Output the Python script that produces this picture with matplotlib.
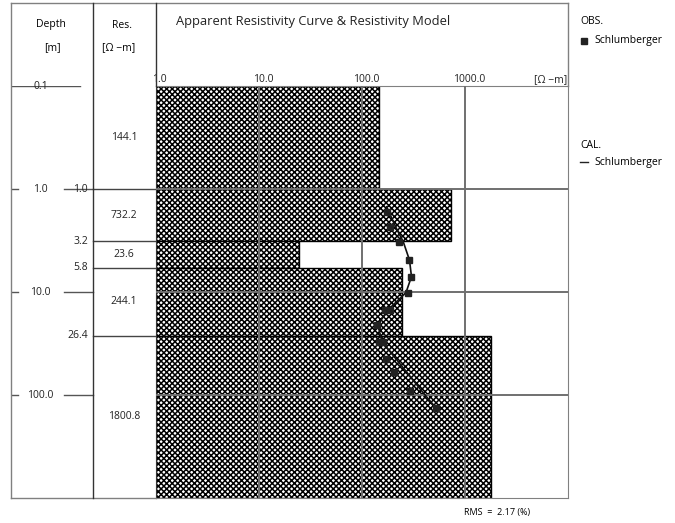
import numpy as np
import matplotlib
matplotlib.use("Agg")
import matplotlib.pyplot as plt
from matplotlib.transforms import offset_copy

plt.rcParams['font.family'] = ['Open Sans', 'DejaVu Sans']
plt.rcParams['hatch.linewidth'] = 1.1
plt.rcParams['hatch.color'] = '#111111'

# resistivity model
layer_top = [0.1, 1.0, 3.2, 5.8, 26.4]
layer_bottom = [1.0, 3.2, 5.8, 26.4, 1000.0]
layer_res = [144.1, 732.2, 23.6, 244.1, 1800.8]
res_labels = ['144.1', '732.2', '23.6', '244.1', '1800.8']
boundary_depths = [1.0, 3.2, 5.8, 26.4]
boundary_labels = ['1.0', '3.2', '5.8', '26.4']

depth_ticks = [0.1, 1.0, 10.0, 100.0]
depth_tick_labels = ['0.1', '1.0', '10.0', '100.0']
res_ticks = [1.0, 10.0, 100.0, 1000.0]
res_tick_labels = ['1.0', '10.0', '100.0', '1000.0']

# observed apparent resistivity (Schlumberger)
obs_ab2 = [1.66, 2.35, 3.27, 4.89, 7.06, 10.1, 14.9, 14.9, 20.8, 30.4, 30.4,
           44.9, 60.3, 90.9, 133.7]
obs_rho = [177, 187, 230, 284, 297, 280, 167, 189, 139, 146, 160,
           173, 205, 293, 520]

# calculated curve
cal_ab2 = [1.48, 1.66, 2.35, 3.27, 4.89, 7.06, 10.1, 14.9, 20.8, 30.4,
           44.9, 60.3, 90.9, 133.7]
cal_rho = [174, 183, 214, 253, 290, 303, 268, 179, 143, 157,
           216, 274, 380, 525]
rms = 2.17

W, H = 675, 523
fig = plt.figure(figsize=(W / 100, H / 100), dpi=100)


def box(x0, y0, x1, y1):
    return [x0 / W, 1 - y1 / H, (x1 - x0) / W, (y1 - y0) / H]


X0, XD, XR, X1 = 11, 93.3, 155.7, 568
Y0, YT, YB = 3, 86.3, 498
GRID = '#707070'
FRAME = '#808080'

# main plot
ax = fig.add_axes(box(XR, YT, X1, YB))
ax.set_xscale('log')
ax.set_yscale('log')
ax.set_xlim(1, 10000)
ax.set_ylim(1000, 0.1)
ax.barh(layer_top, layer_res, height=np.subtract(layer_bottom, layer_top),
        left=1, align='edge', facecolor='white', edgecolor='black',
        hatch='xxxxxx', linewidth=1, zorder=2)
for v in res_ticks[1:]:
    ax.axvline(v, color=GRID, lw=1.4, zorder=3)
for d in depth_ticks[1:]:
    ax.axhline(d, color=GRID, lw=1.4, zorder=3)
ax.plot(cal_rho, cal_ab2, color='#111111', lw=1.2, zorder=4)
ax.plot(obs_rho, obs_ab2, 's', color='#222222', ms=4.5, zorder=5)
ax.minorticks_off()
ax.set_xticks([])
ax.set_yticks([])
for s in ax.spines.values():
    s.set_color(FRAME)
ax.spines['left'].set_color('#333333')

lab_tr = offset_copy(ax.get_xaxis_transform(), fig=fig, x=4, y=0, units='dots')
for v, t in zip(res_ticks, res_tick_labels):
    ax.text(v, 1.017, t, transform=lab_tr, ha='center', va='center',
            fontsize=7.5, color='#222222')
ax.text(0.958, 1.017, '[Ω −m]', transform=ax.transAxes, ha='center',
        va='center', fontsize=7.5, color='#222222')

# depth / resistivity columns
axl = fig.add_axes(box(X0, YT, XR, YB))
axl.set_yscale('log')
axl.set_xlim(X0, XR)
axl.set_ylim(1000, 0.1)
axl.axis('off')
for d, t in zip(depth_ticks, depth_tick_labels):
    if d == depth_ticks[0]:
        axl.plot([X0, 80], [d, d], color='#555555', lw=1)
    else:
        axl.plot([X0, 18], [d, d], color='#555555', lw=1)
        axl.plot([64, XD], [d, d], color='#555555', lw=1)
    axl.text(40.5, d, t, ha='center', va='center', fontsize=7.5, color='#222222')
for d, t in zip(boundary_depths, boundary_labels):
    axl.plot([XD, XR], [d, d], color='#444444', lw=1)
    axl.text(88, d, t, ha='right', va='center', fontsize=7.5, color='#222222')
for top, bot, t in zip(layer_top, layer_bottom, res_labels):
    axl.text(124, np.sqrt(top * bot), t, ha='center', va='center',
             fontsize=7.5, color='#222222')

# frame and header
ov = fig.add_axes([0, 0, 1, 1])
ov.set_xlim(0, W)
ov.set_ylim(H, 0)
ov.axis('off')
ov.patch.set_alpha(0)
ov.plot([X0, X1], [Y0, Y0], color=FRAME, lw=1)
ov.plot([X0, XR], [YB, YB], color=FRAME, lw=1)
ov.plot([X0, X0], [Y0, YB], color=FRAME, lw=1)
ov.plot([X1, X1], [Y0, YT], color=FRAME, lw=1)
ov.plot([XD, XD], [Y0, YB], color='#333333', lw=1)
ov.plot([XR, XR], [Y0, YT], color='#333333', lw=1)

ov.text(50.5, 25, 'Depth', ha='center', va='center', fontsize=7.5)
ov.text(52, 48, '[m]', ha='center', va='center', fontsize=7.5)
ov.text(122, 25, 'Res.', ha='center', va='center', fontsize=7.5)
ov.text(119, 48, '[Ω −m]', ha='center', va='center', fontsize=7.5)
ov.text(176, 22, 'Apparent Resistivity Curve & Resistivity Model',
        ha='left', va='center', fontsize=9.3, color='#222222')

ov.text(580, 22, 'OBS.', ha='left', va='center', fontsize=7.5)
ov.plot([584], [41], 's', color='#222222', ms=4.5)
ov.text(594, 41, 'Schlumberger', ha='left', va='center', fontsize=7.5)
ov.text(580, 146, 'CAL.', ha='left', va='center', fontsize=7.5)
ov.plot([580, 588], [162, 162], color='#222222', lw=1)
ov.text(594, 162, 'Schlumberger', ha='left', va='center', fontsize=7.5)
ov.text(497, 513, f'RMS  =  {rms:.2f} (%)', ha='center', va='center', fontsize=6.5)

fig.savefig('out.png', dpi=100)
